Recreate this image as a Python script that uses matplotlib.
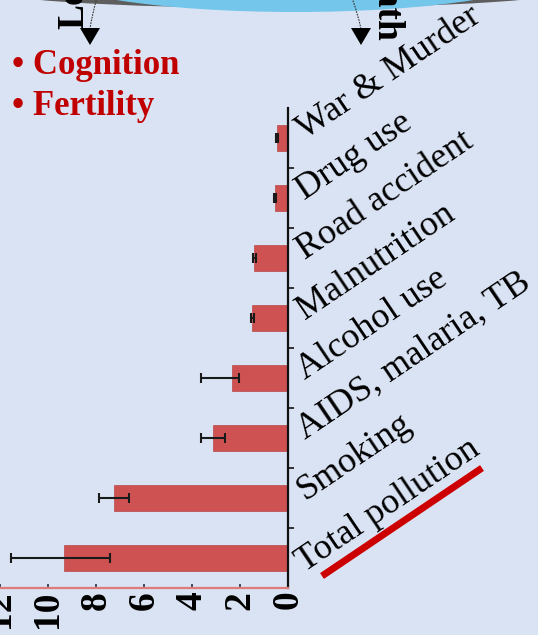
import matplotlib
matplotlib.use("Agg")
import matplotlib.pyplot as plt
import numpy as np
from matplotlib.patches import Ellipse, Polygon
from matplotlib.lines import Line2D
from matplotlib.path import Path
from matplotlib.patches import PathPatch
import matplotlib.transforms as mtransforms

# ---- data (bottom to top) ----
categories = ["Total pollution", "Smoking", "AIDS, malaria, TB", "Alcohol use",
              "Malnutrition", "Road accident", "Drug use", "War & Murder"]
deaths = [9.33, 7.25, 3.12, 2.35, 1.49, 1.40, 0.54, 0.45]          # millions
err_minus = [1.91, 0.61, 0.50, 0.32, 0.07, 0.07, 0.05, 0.05]
err_plus = [2.21, 0.61, 0.50, 1.28, 0.07, 0.07, 0.05, 0.05]
xtick_values = [0, 2, 4, 6, 8, 10, 12]
xtick_labels = ["0", "2", "4", "6", "8", "10", "12"]
side_items = ["• Cognition", "• Fertility"]

W, H = 538, 635
BG = "#dae3f3"
BAR = "#cf5252"
SERIF = ["Liberation Serif", "DejaVu Serif"]

fig = plt.figure(figsize=(W / 100, H / 100), dpi=100, facecolor=BG)


def fx(x):
    return x / W


def fy(y):
    return 1 - y / H


# ---- decorations at the top (partial diagram) ----
shadow = Ellipse((fx(280), fy(-12)), fx(600), 40 / H, transform=fig.transFigure,
                 facecolor="#5e5e5e", edgecolor="none", zorder=1)
fig.patches.append(shadow)
blue = Ellipse((fx(295), fy(-28)), fx(500), 80 / H, transform=fig.transFigure,
               facecolor="#74c6ea", edgecolor="none", zorder=1.2)
fig.patches.append(blue)

# arrows
for (x0, y0, xc, yc, x1, y1) in [(97, -2, 92, 14, 90, 29), (352, -2, 358, 14, 361, 29)]:
    verts = [(fx(x0), fy(y0)), (fx(xc), fy(yc)), (fx(x1), fy(y1))]
    p = Path(verts, [Path.MOVETO, Path.CURVE3, Path.CURVE3])
    fig.patches.append(PathPatch(p, transform=fig.transFigure, facecolor="none",
                                 edgecolor="#333333", lw=0.8, linestyle=(0, (1.5, 1)),
                                 zorder=2))
    tri = Polygon([(fx(x1 - 10), fy(28)), (fx(x1 + 10), fy(28)), (fx(x1), fy(45))],
                  closed=True, transform=fig.transFigure, facecolor="black",
                  edgecolor="none", zorder=2)
    fig.patches.append(tri)

fig.text(fx(83), fy(29), "Loss", rotation=90, rotation_mode="anchor",
         ha="left", va="baseline", fontsize=27, fontweight="bold",
         family=SERIF, color="black", zorder=3)
fig.text(fx(377), fy(41), "Death", rotation=-90, rotation_mode="anchor",
         ha="right", va="baseline", fontsize=27, fontweight="bold",
         family=SERIF, color="black", zorder=3)

for i, item in enumerate(side_items):
    fig.text(fx(12), fy(74 + 41 * i), item, ha="left", va="baseline",
             fontsize=25, fontweight="bold", family=SERIF, color="#c00000")

# ---- main chart ----
ax_bottom, ax_top = 588, 108
ax = fig.add_axes([0, fy(ax_bottom), fx(288), (ax_bottom - ax_top) / H])
ax.set_facecolor("none")

y = np.arange(len(categories))
ax.barh(y, deaths, height=0.42, color=BAR, edgecolor="#b84848", linewidth=0.5,
        xerr=[err_minus, err_plus],
        error_kw=dict(ecolor="#1a1a1a", elinewidth=1.5, capsize=3.5, capthick=1.5),
        zorder=2)

ax.set_xlim(12, 0)
ax.set_ylim(-0.5, len(categories) - 0.5)

ax.spines["left"].set_visible(False)
ax.spines["top"].set_visible(False)
ax.spines["right"].set_color("#111111")
ax.spines["right"].set_linewidth(1.6)
ax.spines["bottom"].set_color("#e07a7a")
ax.spines["bottom"].set_linewidth(1.6)

ax.yaxis.tick_right()
ax.set_yticks(np.arange(0.5, len(categories) - 0.5, 1.0))
ax.set_yticklabels([])
ax.tick_params(axis="y", direction="out", length=4, width=1.2, color="#111111")

ax.set_xticks(xtick_values)
ax.set_xticklabels(xtick_labels, rotation=90, fontsize=27, fontweight="bold",
                   family=SERIF)
ax.tick_params(axis="x", direction="in", length=3, width=1.2, color="#333333", pad=2)

# category labels (rotated)
label_dy = [14, 2, 2, 2, 2, 2, 2, 2]  # pixel offset downward of baseline start
for i, cat in enumerate(categories):
    off = mtransforms.ScaledTranslation(17 / 100, -label_dy[i] / 100, fig.dpi_scale_trans)
    tr = mtransforms.blended_transform_factory(ax.transAxes, ax.transData) + off
    ax.text(1.0, y[i], cat, transform=tr, rotation=34, rotation_mode="anchor",
            ha="left", va="baseline", fontsize=26, family=SERIF, color="black",
            clip_on=False)

# red underline under "Total pollution"
fig.lines.append(Line2D([fx(322), fx(482)], [fy(576), fy(468)],
                        transform=fig.transFigure, color="#cc0000", lw=5,
                        solid_capstyle="butt"))

fig.savefig("out.png", dpi=100, facecolor=BG)
